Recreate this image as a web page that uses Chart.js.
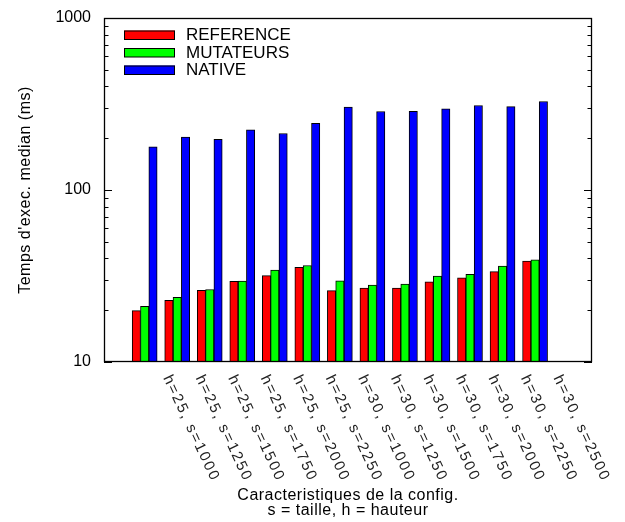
<!DOCTYPE html>
<html><head><meta charset="utf-8">
<script src="https://cdn.jsdelivr.net/npm/chart.js@4/dist/chart.umd.min.js"></script>
<style>html,body{margin:0;padding:0;background:#fff}#wrap{width:625px;height:522px}</style>
</head><body><div id="wrap"><canvas id="c" width="625" height="522"></canvas></div>
<script>
const categories = ["h=25, s=1000","h=25, s=1250","h=25, s=1500","h=25, s=1750","h=25, s=2000","h=25, s=2250",
  "h=30, s=1000","h=30, s=1250","h=30, s=1500","h=30, s=1750","h=30, s=2000","h=30, s=2250","h=30, s=2500"];
const reference = [19.9, 22.8, 26.1, 29.4, 31.8, 35.5, 26.0, 26.9, 26.9, 29.2, 30.9, 33.5, 38.6];
const mutateurs = [21.1, 23.8, 26.4, 29.5, 34.2, 36.4, 29.6, 28.0, 28.4, 31.6, 32.3, 36.1, 39.3];
const native    = [178, 203, 197, 224, 213, 244, 303, 286, 287, 296, 310, 305, 327];
const seriesNames = ["REFERENCE", "MUTATEURS", "NATIVE"];
const yTickLabels = [10, 100, 1000];
const xTitle = ["Caracteristiques de la config.", "s = taille, h = hauteur"];
const yTitle = "Temps d'exec. median (ms)";

const FONT = '"Liberation Sans", Arial, Helvetica, sans-serif';
const colors = ['#ff0000', '#00ff00', '#0000ff'];
const toPoints = arr => arr.map((v, i) => ({x: i, y: v}));

const decor = {
  id: 'decor',
  afterDraw(chart) {
    const ctx = chart.ctx;
    const a = chart.chartArea;
    const xs = chart.scales.x, ys = chart.scales.y;
    ctx.save();
    // frame
    ctx.strokeStyle = '#000';
    ctx.lineWidth = 1.3;
    ctx.strokeRect(a.left + 0.5, a.top + 0.5, a.right - a.left - 1, a.bottom - a.top - 1);
    // y ticks (inward, both sides)
    ctx.lineWidth = 1;
    ctx.beginPath();
    for (let d = 10; d < 1000; d *= 10) {
      for (let k = 1; k <= 9; k++) {
        const v = d * k;
        const y = Math.round(ys.getPixelForValue(v)) + 0.5;
        const len = k === 1 ? 8 : 4.5;
        ctx.moveTo(a.left, y); ctx.lineTo(a.left + len, y);
        ctx.moveTo(a.right, y); ctx.lineTo(a.right - len, y);
      }
    }
    ctx.stroke();
    // x labels (rotated)
    ctx.fillStyle = '#222';
    ctx.font = '15px ' + FONT;
    ctx.textAlign = 'left';
    ctx.textBaseline = 'middle';
    categories.forEach((c, i) => {
      const x = xs.getPixelForValue(i) + 22;
      ctx.save();
      ctx.translate(x, a.bottom + 14);
      ctx.rotate(65 * Math.PI / 180);
      ctx.letterSpacing = '2px';
      ctx.fillText(c, 0, 0);
      ctx.restore();
    });
    // axis titles
    ctx.fillStyle = '#000';
    ctx.font = '16px ' + FONT;
    ctx.textAlign = 'center';
    ctx.textBaseline = 'alphabetic';
    const cx = (a.left + a.right) / 2;
    ctx.letterSpacing = '0.5px';
    ctx.fillText(xTitle[0], cx, 500);
    ctx.fillText(xTitle[1], cx, 515);
    ctx.save();
    ctx.translate(30, (a.top + a.bottom) / 2);
    ctx.rotate(-Math.PI / 2);
    ctx.fillText(yTitle, 0, 0);
    ctx.restore();
    ctx.letterSpacing = '0px';
    // legend
    ctx.font = '17px ' + FONT;
    ctx.textAlign = 'left';
    ctx.textBaseline = 'middle';
    chart.data.datasets.forEach((ds, i) => {
      const yc = 35 + i * 17.5;
      ctx.fillStyle = ds.backgroundColor;
      ctx.fillRect(124, yc - 4.5, 51, 9);
      ctx.strokeStyle = '#000';
      ctx.lineWidth = 1;
      ctx.strokeRect(124.5, yc - 4, 50, 8.5);
      ctx.fillStyle = '#000';
      ctx.fillText(ds.label, 186, yc + 0.5);
    });
    ctx.restore();
  }
};

new Chart(document.getElementById('c'), {
  type: 'bar',
  data: {
    datasets: [reference, mutateurs, native].map((arr, i) => ({
      label: seriesNames[i],
      data: toPoints(arr),
      backgroundColor: colors[i],
      borderColor: '#000',
      borderWidth: 1,
      borderSkipped: 'bottom',
      barThickness: 8.33,
      grouped: true
    }))
  },
  options: {
    responsive: false,
    animation: false,
    devicePixelRatio: 1,
    layout: { padding: { top: 18, right: 33, left: 0, bottom: 0 } },
    plugins: { legend: { display: false }, tooltip: { enabled: false } },
    scales: {
      x: {
        type: 'linear',
        min: -1.25, max: 13.75,
        offset: false,
        grid: { display: false },
        border: { display: false },
        ticks: { display: false },
        afterBuildTicks: s => { s.ticks = categories.map((c, i) => ({ value: i })); },
        afterFit: s => { s.height = 160; }
      },
      y: {
        type: 'logarithmic',
        min: 10, max: 1000,
        grid: { display: false },
        border: { display: false },
        afterBuildTicks: s => { s.ticks = yTickLabels.map(v => ({ value: v, major: true })); },
        ticks: {
          autoSkip: false,
          padding: 5,
          color: '#000',
          font: { size: 16, family: FONT },
          callback: v => String(v)
        },
        afterFit: s => { s.width = 104; }
      }
    }
  },
  plugins: [decor]
});
</script>
</body></html>
